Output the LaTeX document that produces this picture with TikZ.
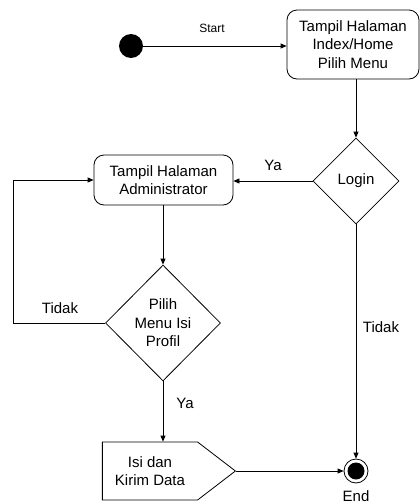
\documentclass[tikz,border=0pt]{standalone}
\usepackage{fontspec}
\setmainfont{Liberation Sans}
\usetikzlibrary{shapes.geometric, shapes.symbols, arrows.meta, positioning}

\begin{document}
\begin{tikzpicture}[
        x=1pt, y=-1pt,
        font=\fontsize{15}{18.5}\selectfont,
        flow/.style={draw, line width=0.8pt, -{Triangle[length=6pt, width=5pt]}},
        action/.style={draw, line width=0.8pt, rounded corners=10pt, align=center, inner sep=0pt},
        decision/.style={diamond, draw, line width=0.8pt, align=center, inner sep=0pt},
        sendbox/.style={signal, signal to=east, signal pointer angle=75, draw, line width=0.8pt, align=center, inner sep=0pt},
        start dot/.style={circle, fill=black, minimum size=24pt, inner sep=0pt},
        end dot/.style={circle, draw, line width=0.8pt, minimum size=24pt, inner sep=0pt,
            path picture={\fill[black] (path picture bounding box.center) circle (8.5pt);}},
        edge label/.style={inner sep=0pt},
    ]
	\useasboundingbox (0,0) rectangle (420,504);
	\node[start dot] (s) at (131,46) {};
	\node[action, minimum width=132pt, minimum height=69pt] (home) at (353,44.5) {Tampil Halaman\\Index/Home\\Pilih Menu};
	\node[decision, minimum width=86pt, minimum height=86pt] (login) at (356,181) {Login};
	\node[action, minimum width=139pt, minimum height=50pt] (admin) at (163.5,180) {Tampil Halaman\\Administrator};
	\node[decision, minimum width=115pt, minimum height=116pt] (pilih) at (163,323) {Pilih\\Menu Isi\\Profil};
	\node[sendbox, minimum width=133pt, minimum height=58pt] (isi) at (150,471) {Isi dan\\Kirim Data};
	\node[end dot] (end) at (356,471) {};
	\coordinate (loop) at (13,323);
	\draw[flow] (s) -- (home.west |- s);
	\draw[flow] (home.south -| login.north) -- (login.north);
	\draw[flow] (login.west) -- (login.west -| admin.east);
	\draw[flow] (admin.south -| pilih.north) -- (pilih.north);
	\draw[flow] (pilih.west) -- (loop) |- (admin.west);
	\draw[flow] (pilih.south) -- (pilih.south |- isi.north);
	\draw[flow] (isi.east) -- (end.west);
	\draw[flow] (login.south) -- (end.north);
	\node[edge label, font=\fontsize{12}{14}\selectfont] (startlbl) at (212,28) {Start};
	\node[edge label] (yalogin) at (273,165) {Ya};
	\node[edge label] (tidakpilih) at (60,308) {Tidak};
	\node[edge label] (yapilih) at (185,403) {Ya};
	\node[edge label] (tidaklogin) at (381,327) {Tidak};
	\node[edge label] (endlbl) at (356,496) {End};
\end{tikzpicture}
\end{document}
